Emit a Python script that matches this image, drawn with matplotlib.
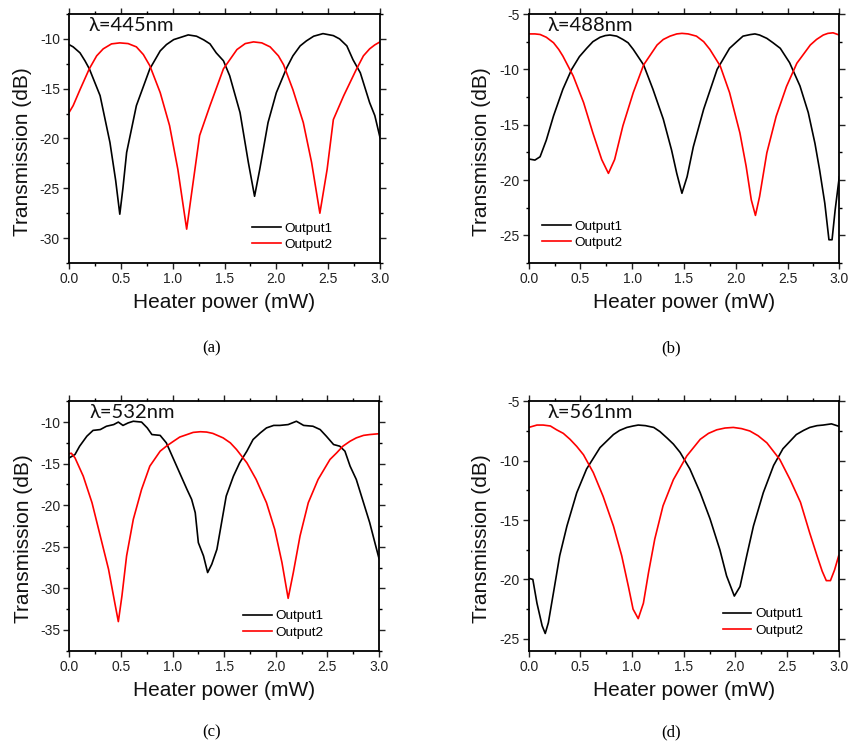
import matplotlib
matplotlib.use("Agg")
import matplotlib.pyplot as plt
from matplotlib.ticker import MultipleLocator

# ---------------- data ----------------
# (a) 445 nm
a_x1 = [0.0, 0.04, 0.106, 0.154, 0.196, 0.30, 0.395, 0.45, 0.49, 0.52, 0.556, 0.65, 0.78, 0.88, 0.94,
        1.01, 1.07, 1.15, 1.23, 1.30, 1.36, 1.42, 1.49, 1.55, 1.65, 1.73, 1.79, 1.84, 1.92, 2.00,
        2.10, 2.16, 2.23, 2.29, 2.36, 2.45, 2.55, 2.61, 2.68, 2.74, 2.81, 2.90, 2.95, 3.00]
a_y1 = [-10.57, -10.8, -11.4, -12.2, -13.0, -15.7, -20.4, -24.2, -27.6, -25.0, -21.4, -16.7, -13.0, -11.2, -10.57,
        -10.07, -9.87, -9.6, -9.73, -10.1, -10.5, -11.4, -12.2, -13.7, -17.4, -22.4, -25.8, -23.1, -18.4, -15.4,
        -12.9, -11.7, -10.7, -10.2, -9.73, -9.47, -9.67, -10.0, -10.7, -12.1, -13.4, -16.4, -17.7, -19.9]
a_x2 = [0.0, 0.04, 0.106, 0.196, 0.267, 0.33, 0.41, 0.49, 0.57, 0.65, 0.717, 0.78, 0.88, 0.97, 1.05,
        1.135, 1.18, 1.26, 1.36, 1.49, 1.62, 1.70, 1.78, 1.86, 1.94, 2.02, 2.07, 2.16, 2.26, 2.34,
        2.42, 2.49, 2.55, 2.65, 2.77, 2.84, 2.90, 2.95, 3.00]
a_y2 = [-17.4, -16.7, -15.1, -13.0, -11.7, -11.0, -10.5, -10.4, -10.47, -10.8, -11.57, -12.7, -15.4, -18.7, -23.1,
        -29.1, -25.7, -19.7, -16.7, -13.0, -11.07, -10.47, -10.3, -10.4, -10.8, -11.7, -12.6, -15.1, -18.4, -22.4,
        -27.5, -23.1, -18.1, -15.7, -13.1, -11.7, -11.0, -10.6, -10.3]

# (b) 488 nm
b_x1 = [0.0, 0.06, 0.11, 0.17, 0.24, 0.33, 0.415, 0.49, 0.56, 0.62, 0.69, 0.74, 0.785, 0.85, 0.91, 0.96,
        1.01, 1.11, 1.20, 1.30, 1.38, 1.43, 1.48, 1.53, 1.59, 1.69, 1.82, 1.94, 2.01, 2.07, 2.14,
        2.185, 2.23, 2.30, 2.36, 2.43, 2.52, 2.62, 2.70, 2.765, 2.81, 2.86, 2.90, 2.93, 2.96, 3.00]
b_y1 = [-18.1, -18.2, -17.9, -16.4, -14.2, -11.8, -10.0, -8.85, -8.1, -7.5, -7.1, -6.95, -6.9, -7.0, -7.3, -7.6,
        -8.2, -9.6, -11.8, -14.5, -17.3, -19.4, -21.2, -19.7, -17.0, -13.6, -10.0, -8.1, -7.5, -7.0, -6.86,
        -6.8, -6.9, -7.2, -7.6, -8.1, -9.4, -11.5, -13.9, -16.7, -19.1, -22.1, -25.4, -25.4, -22.7, -19.7]
b_x2 = [0.0, 0.06, 0.11, 0.17, 0.24, 0.29, 0.33, 0.43, 0.53, 0.62, 0.705, 0.77, 0.83, 0.91, 1.01,
        1.11, 1.24, 1.30, 1.365, 1.43, 1.48, 1.54, 1.62, 1.69, 1.75, 1.85, 1.94, 2.04, 2.10, 2.15,
        2.19, 2.23, 2.30, 2.39, 2.49, 2.59, 2.72, 2.78, 2.845, 2.89, 2.94, 3.00]
b_y2 = [-6.8, -6.8, -6.85, -7.1, -7.6, -8.2, -8.8, -10.6, -13.0, -15.75, -18.15, -19.4, -18.15, -15.1, -12.1,
        -9.6, -7.8, -7.3, -7.0, -6.8, -6.75, -6.8, -7.0, -7.5, -8.2, -9.7, -12.1, -15.75, -18.75, -21.8,
        -23.2, -21.5, -17.55, -14.25, -11.55, -9.45, -7.8, -7.3, -6.9, -6.75, -6.7, -6.9]

# (c) 532 nm
c_x1 = [0.0, 0.055, 0.10, 0.17, 0.23, 0.30, 0.36, 0.43, 0.475, 0.52, 0.57, 0.62, 0.70, 0.755, 0.80, 0.88, 0.94,
        0.99, 1.04, 1.09, 1.14, 1.185, 1.22, 1.25, 1.30, 1.34, 1.38, 1.43, 1.475, 1.52, 1.59, 1.65, 1.72, 1.78,
        1.85, 1.91, 1.98, 2.04, 2.12, 2.20, 2.27, 2.36, 2.43, 2.49, 2.56, 2.62, 2.67, 2.72, 2.78, 2.85, 2.91,
        2.96, 3.00]
c_y1 = [-14.3, -13.9, -12.9, -11.7, -11.0, -10.9, -10.5, -10.3, -10.0, -10.4, -10.1, -9.9, -10.0, -10.7, -11.5, -11.6, -12.5,
        -13.9, -15.3, -16.7, -18.1, -19.3, -20.9, -24.5, -26.1, -28.1, -27.1, -25.3, -22.1, -18.9, -16.5, -14.9, -13.5, -12.1,
        -11.3, -10.7, -10.4, -10.4, -10.3, -9.9, -10.4, -10.5, -10.9, -11.7, -12.7, -12.9, -13.5, -15.3, -16.9, -19.7, -22.1,
        -24.5, -26.4]
c_x2 = [0.0, 0.02, 0.055, 0.135, 0.22, 0.30, 0.38, 0.44, 0.475, 0.51, 0.555, 0.62, 0.70, 0.78, 0.88,
        0.94, 1.01, 1.07, 1.14, 1.20, 1.27, 1.33, 1.39, 1.49, 1.56, 1.62, 1.72, 1.81, 1.91, 1.99,
        2.06, 2.12, 2.17, 2.235, 2.315, 2.41, 2.525, 2.59, 2.65, 2.72, 2.78, 2.85, 2.91, 3.00]
c_y2 = [-13.8, -13.75, -14.3, -16.5, -19.7, -23.7, -27.7, -31.7, -34.0, -30.9, -26.1, -21.7, -18.1, -15.3, -13.5,
        -12.9, -12.3, -11.8, -11.5, -11.24, -11.16, -11.2, -11.36, -11.9, -12.5, -13.3, -14.9, -16.9, -19.7, -22.9,
        -26.9, -31.2, -28.1, -23.7, -19.7, -16.9, -14.5, -13.7, -12.9, -12.3, -11.9, -11.6, -11.5, -11.4]

# (d) 561 nm
d_x1 = [0.0, 0.04, 0.08, 0.13, 0.16, 0.19, 0.24, 0.30, 0.37, 0.465, 0.56, 0.69, 0.82, 0.88, 0.95,
        1.01, 1.06, 1.13, 1.21, 1.27, 1.34, 1.40, 1.465, 1.56, 1.66, 1.755, 1.85, 1.915, 1.99, 2.045,
        2.11, 2.175, 2.27, 2.37, 2.46, 2.59, 2.66, 2.72, 2.79, 2.85, 2.93, 3.00]
d_y1 = [-19.9, -20.0, -22.0, -23.9, -24.55, -23.65, -21.1, -18.0, -15.5, -12.7, -10.7, -8.9, -7.8, -7.45, -7.2,
        -7.08, -7.0, -7.05, -7.2, -7.55, -8.1, -8.6, -9.3, -10.7, -12.7, -14.9, -17.5, -19.7, -21.4, -20.6,
        -18.0, -15.5, -12.7, -10.4, -9.0, -7.8, -7.45, -7.2, -7.05, -7.0, -6.9, -7.1]
d_x2 = [0.0, 0.08, 0.14, 0.21, 0.27, 0.335, 0.40, 0.465, 0.53, 0.625, 0.72, 0.82, 0.90, 0.965, 1.01,
        1.06, 1.11, 1.16, 1.22, 1.30, 1.40, 1.53, 1.66, 1.74, 1.82, 1.90, 1.98, 2.06, 2.14, 2.22,
        2.305, 2.43, 2.53, 2.63, 2.72, 2.79, 2.84, 2.88, 2.92, 2.96, 3.00]
d_y2 = [-7.2, -7.0, -7.0, -7.08, -7.4, -7.7, -8.2, -8.8, -9.5, -11.0, -13.0, -15.5, -18.0, -20.6, -22.5,
        -23.3, -22.0, -19.4, -16.6, -13.8, -11.6, -9.6, -8.2, -7.7, -7.4, -7.25, -7.2, -7.3, -7.5, -7.9,
        -8.5, -9.9, -11.6, -13.5, -16.1, -18.0, -19.3, -20.1, -20.1, -19.2, -18.0]

wavelengths = ["λ=445nm", "λ=488nm", "λ=532nm", "λ=561nm"]
captions = ["(a)", "(b)", "(c)", "(d)"]
series_labels = ["Output1", "Output2"]
x_label = "Heater power (mW)"
y_label = "Transmission (dB)"

# ---------------- layout ----------------
SANS = "Liberation Sans"
fig = plt.figure(figsize=(8.51, 7.44), dpi=100)

panels = [
    dict(rect=(69/851, 1-263/744, 311/851, 249/744), data=(a_x1, a_y1, a_x2, a_y2),
         ylim=(-32.5, -7.5), yticks=[-30, -25, -20, -15, -10], leg=(0.59, 0.106), lamx=0.064,
         ylab=(-0.148, 0.447)),
    dict(rect=(528.7/851, 1-263/744, 310.6/851, 249/744), data=(b_x1, b_y1, b_x2, b_y2),
         ylim=(-27.5, -5), yticks=[-25, -20, -15, -10, -5], leg=(0.044, 0.114), lamx=0.061,
         ylab=(-0.151, 0.447)),
    dict(rect=(69.3/851, 1-650.7/744, 309.7/851, 249.4/744), data=(c_x1, c_y1, c_x2, c_y2),
         ylim=(-37.5, -7.5), yticks=[-35, -30, -25, -20, -15, -10], leg=(0.562, 0.105), lamx=0.064,
         ylab=(-0.149, 0.449)),
    dict(rect=(528.7/851, 1-650.7/744, 310/851, 249.4/744), data=(d_x1, d_y1, d_x2, d_y2),
         ylim=(-26, -5), yticks=[-25, -20, -15, -10, -5], leg=(0.626, 0.114), lamx=0.061,
         ylab=(-0.152, 0.449)),
]
cap_pos = [(0.249, 0.532), (0.789, 0.532), (0.249, 0.016), (0.789, 0.016)]

for i, p in enumerate(panels):
    ax = fig.add_axes(p["rect"])
    x1, y1, x2, y2 = p["data"]
    ax.plot(x1, y1, color="black", lw=1.2, label=series_labels[0])
    ax.plot(x2, y2, color="#ff0000", lw=1.2, label=series_labels[1])
    ax.set_xlim(0, 3.0)
    ax.set_ylim(*p["ylim"])
    ax.set_xticks([0.0, 0.5, 1.0, 1.5, 2.0, 2.5, 3.0])
    ax.set_xticklabels(["0.0", "0.5", "1.0", "1.5", "2.0", "2.5", "3.0"])
    ax.set_yticks(p["yticks"])
    ax.set_yticklabels([str(v) for v in p["yticks"]])
    ax.xaxis.set_minor_locator(MultipleLocator(0.25))
    ax.yaxis.set_minor_locator(MultipleLocator(2.5))
    ax.tick_params(which="both", direction="out", top=True, right=True, width=1.0, color="black")
    ax.tick_params(which="major", length=4)
    ax.tick_params(which="minor", length=2.5)
    ax.tick_params(axis="both", labelsize=10, pad=2.5, colors="#222222")
    for lab in ax.get_xticklabels() + ax.get_yticklabels():
        lab.set_fontfamily(SANS)
    for s in ax.spines.values():
        s.set_linewidth(1.3)
    ax.set_xlabel(x_label, fontsize=15, fontfamily=SANS, color="#111111")
    ax.xaxis.label.set_va("center")
    ax.xaxis.set_label_coords(0.5, -0.158)
    ax.set_ylabel(y_label, fontsize=15, fontfamily=SANS, color="#111111")
    ax.yaxis.label.set_va("center")
    ax.yaxis.set_label_coords(*p["ylab"])
    ax.text(p["lamx"], 0.955, wavelengths[i], transform=ax.transAxes, fontsize=14.5,
            fontfamily="Lato", va="center", ha="left", color="#111111")
    ax.legend(loc="center left", bbox_to_anchor=p["leg"], frameon=False,
              prop={"family": SANS, "size": 9.7}, handlelength=2.1, handletextpad=0.3,
              labelspacing=0.3, borderpad=0, borderaxespad=0)
    fig.text(cap_pos[i][0], cap_pos[i][1], captions[i], fontsize=12, fontfamily="Liberation Serif",
             ha="center", va="center")

fig.savefig("out.png", dpi=100)
